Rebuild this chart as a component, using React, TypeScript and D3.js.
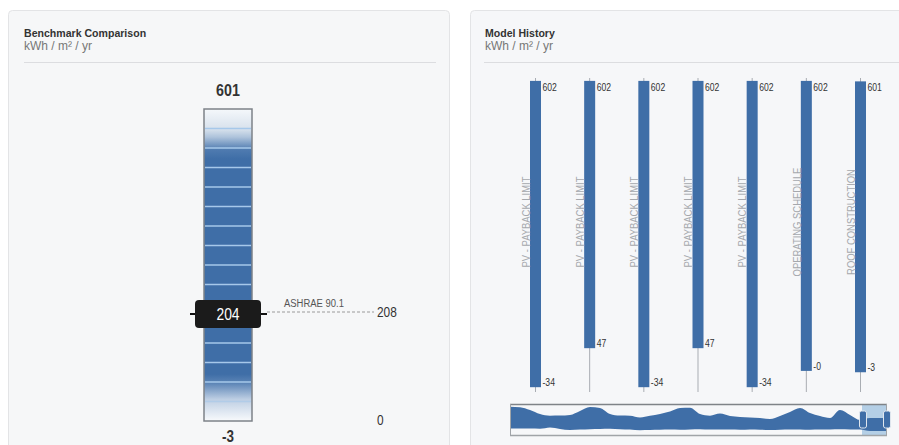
import React from 'react';
import * as d3 from 'd3';

const W = 899;
const H = 445;
const FONT = "'Liberation Sans',Arial,sans-serif";

// ---- Benchmark comparison data
const benchMin = -3;
const benchMax = 601;
const benchValue = 204;
const benchRefLabel = 'ASHRAE 90.1';
const benchRefValue = 208;
const benchAxisTicks = [208, 0];
const benchSegments = 16;

// ---- Model history data
const modelLabels = [
  'PV - PAYBACK LIMIT',
  'PV - PAYBACK LIMIT',
  'PV - PAYBACK LIMIT',
  'PV - PAYBACK LIMIT',
  'PV - PAYBACK LIMIT',
  'OPERATING SCHEDULE',
  'ROOF CONSTRUCTION',
];
const modelHigh = [602, 602, 602, 602, 602, 602, 601];
const modelLow = [-34, 47, -34, 47, -34, -0.2, -3];
const modelWickRange = [-44, 608];

// ---- Navigator (overview) series
const navTop = [29.3, 28.8, 26, 22, 20.3, 20.4, 21, 25, 29, 28, 22, 20.4, 20.2, 18.5, 20.2, 22, 24.5, 28,
  28.3, 22, 20.3, 22.5, 20, 19, 18.5, 18, 17, 20, 24, 28, 23, 20, 18, 26, 21, 16, 18, 18, 18];
const navBottom = [7.6, 7.5, 7.4, 7.2, 8.5, 7, 6, 6.5, 6.8, 7, 7.2, 6.8, 6.5, 5.8, 6, 6.2, 6.5, 6.3,
  6.5, 6.8, 6.5, 6.6, 6.4, 6.2, 6.5, 6.3, 6, 6.2, 6.5, 6.5, 6.2, 6.4, 6.5, 6.8, 6.6, 6.5, 5, 5, 5];

const BLUE = '#3f6ea7';

// condensed text helper (horizontal squeeze around the anchor)
function NText(props: any) {
  const { x, y, sx = 0.82, rotate = 0, children, ...rest } = props;
  return (
    <text transform={`translate(${x},${y}) rotate(${rotate}) scale(${sx},1)`} fontFamily={FONT} {...rest}>
      {children}
    </text>
  );
}

export default function App() {
  const bx0 = 204;
  const bx1 = 252;
  const bcx = (bx0 + bx1) / 2;
  const benchY = d3.scaleLinear().domain([benchMin, benchMax]).range([421, 109]);
  const segLines = d3.range(1, benchSegments).map((k) => benchMin + ((benchMax - benchMin) * k) / benchSegments);
  const my = benchY(benchValue);

  const modelX = d3.scalePoint<number>().domain(d3.range(modelHigh.length)).range([535.5, 860.5]);
  const modelY = d3.scaleLinear().domain(modelWickRange).range([392, 78]);
  const barW = 11;

  const navX = d3.scaleLinear().domain([0, navTop.length - 1]).range([510, 510 + 10 * (navTop.length - 1)]);
  const navY = d3.scaleLinear().domain([0, 32]).range([436, 404]);
  const area = d3
    .area<number>()
    .x((_, i) => navX(i))
    .y0((_, i) => navY(navBottom[i]))
    .y1((d) => navY(d))
    .curve(d3.curveMonotoneX);

  return (
    <svg width={W} height={H} style={{ position: 'absolute', left: 0, top: 0, background: '#fff' }}>
      <defs>
        <linearGradient id="benchGrad" x1="0" y1="0" x2="0" y2="1">
          <stop offset="0%" stopColor="#f5f8fb" />
          <stop offset="6.5%" stopColor="#d7e1ec" />
          <stop offset="9%" stopColor="#aec3db" />
          <stop offset="13%" stopColor="#4f7bb0" />
          <stop offset="16%" stopColor={BLUE} />
          <stop offset="85%" stopColor={BLUE} />
          <stop offset="88%" stopColor="#5e86b7" />
          <stop offset="93%" stopColor="#bdcee3" />
          <stop offset="100%" stopColor="#f8fafc" />
        </linearGradient>
        <clipPath id="navClip">
          <rect x={510} y={404} width={377} height={32} />
        </clipPath>
      </defs>

      {/* cards */}
      <rect x={8.5} y={10.5} width={441} height={460} rx={4} fill="#f6f7f8" stroke="#e3e4e6" />
      <rect x={470.5} y={10.5} width={460} height={460} rx={4} fill="#f6f7f9" stroke="#e3e4e6" />

      {/* left header */}
      <NText x={24} y={37} sx={0.92} fontWeight="bold" fontSize={11.5} fill="#333">
        Benchmark Comparison
      </NText>
      <text x={24} y={50} fontFamily={FONT} fontSize={12} fill="#777">
        kWh / m² / yr
      </text>
      <line x1={24} x2={436} y1={62.5} y2={62.5} stroke="#dcdde0" />

      {/* right header */}
      <NText x={485} y={37} sx={0.92} fontWeight="bold" fontSize={11.5} fill="#333">
        Model History
      </NText>
      <text x={485} y={50} fontFamily={FONT} fontSize={12} fill="#777">
        kWh / m² / yr
      </text>
      <line x1={484} x2={899} y1={62.5} y2={62.5} stroke="#dcdde0" />

      {/* benchmark bar */}
      <NText x={bcx} y={96} sx={0.84} textAnchor="middle" fontWeight="bold" fontSize={17} fill="#333">
        {benchMax}
      </NText>
      <rect
        x={bx0}
        y={benchY(benchMax)}
        width={bx1 - bx0}
        height={benchY(benchMin) - benchY(benchMax)}
        fill="url(#benchGrad)"
      />
      {segLines.map((v, i) => (
        <line
          key={i}
          x1={bx0 + 1}
          x2={bx1 - 1}
          y1={benchY(v)}
          y2={benchY(v)}
          stroke="#a6c8ea"
          strokeWidth={1.5}
          opacity={i === 0 ? 0.6 : 1}
        />
      ))}
      <rect
        x={bx0}
        y={benchY(benchMax)}
        width={bx1 - bx0}
        height={benchY(benchMin) - benchY(benchMax)}
        fill="none"
        stroke="#7d8288"
        strokeWidth={1.5}
      />
      <NText x={bcx} y={442} sx={0.84} textAnchor="middle" fontWeight="bold" fontSize={16} fill="#333">
        {benchMin}
      </NText>

      {/* reference line */}
      <line
        x1={267}
        x2={374}
        y1={benchY(benchRefValue)}
        y2={benchY(benchRefValue)}
        stroke="#9a9a9a"
        strokeDasharray="3,2"
      />
      <NText x={284} y={benchY(benchRefValue) - 5} sx={0.86} fontSize={11} fill="#555">
        {benchRefLabel}
      </NText>
      {benchAxisTicks.map((t) => (
        <NText key={t} x={377} y={benchY(t)} sx={0.82} dy="0.35em" fontSize={14.5} fill="#333">
          {t}
        </NText>
      ))}

      {/* value marker */}
      <line x1={190} x2={267} y1={my} y2={my} stroke="#111" strokeWidth={2} />
      <rect x={195} y={my - 14} width={66} height={28} rx={4} fill="#1b1b1b" />
      <NText x={bcx} y={my} sx={0.84} dy="0.36em" textAnchor="middle" fontSize={16.5} fill="#fff">
        {benchValue}
      </NText>

      {/* model history bars */}
      {modelHigh.map((hi, i) => {
        const cx = modelX(i) as number;
        const lo = modelLow[i];
        return (
          <g key={i}>
            <line
              x1={cx}
              x2={cx}
              y1={modelY(modelWickRange[1])}
              y2={modelY(modelWickRange[0])}
              stroke="#a9adb3"
              strokeWidth={1}
            />
            <rect x={cx - barW / 2} y={modelY(hi)} width={barW} height={modelY(lo) - modelY(hi)} fill={BLUE} />
            <NText x={cx + barW / 2 + 1.5} y={modelY(hi) + 10} sx={0.82} fontSize={10.5} fill="#333">
              {hi}
            </NText>
            <NText x={cx + barW / 2 + 1.5} y={modelY(lo) - 1} sx={0.82} fontSize={10.5} fill="#333">
              {lo.toFixed(0)}
            </NText>
            <NText
              x={cx - 9.5}
              y={222}
              rotate={-90}
              sx={0.9}
              textAnchor="middle"
              dy="0.35em"
              fontSize={10.5}
              fill="#a5a8ad"
            >
              {modelLabels[i]}
            </NText>
          </g>
        );
      })}

      {/* navigator */}
      <rect x={862} y={404} width={25} height={32} fill="#b4cfe6" />
      <g clipPath="url(#navClip)">
        <path d={area(navTop) || ''} fill={BLUE} />
      </g>
      <line x1={510} x2={887} y1={404.5} y2={404.5} stroke="#7f8388" strokeWidth={1.5} />
      <line x1={510} x2={887} y1={435.5} y2={435.5} stroke="#a0a4a8" strokeWidth={1.5} />
      <line x1={510.5} x2={510.5} y1={404} y2={436} stroke="#a0a4a8" />
      <line x1={886.5} x2={886.5} y1={404} y2={436} stroke="#a0a4a8" />
      <rect x={859.5} y={411} width={7} height={17} rx={2} fill={BLUE} stroke="#dfe6ee" />
      <rect x={883.5} y={411} width={7} height={17} rx={2} fill={BLUE} stroke="#dfe6ee" />
    </svg>
  );
}
